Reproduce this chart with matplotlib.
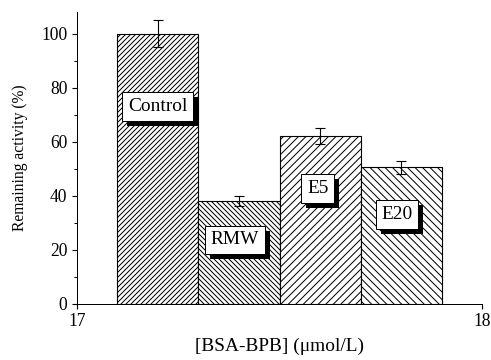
import matplotlib
matplotlib.use("Agg")
import matplotlib.pyplot as plt
import matplotlib.patheffects as pe
from matplotlib.ticker import MultipleLocator

# data
labels = ["Control", "RMW", "E5", "E20"]
positions = [17.2, 17.4, 17.6, 17.8]
activity = [100, 38, 62, 50.5]
errors = [5, 1.8, 3, 2.5]
hatches = ["//////", "\\\\\\\\\\\\", "////", "\\\\\\\\"]
# where the labelled boxes sit (data coords)
label_x = [17.2, 17.39, 17.595, 17.79]
label_y = [73, 23.7, 42.7, 33]

plt.rcParams["font.family"] = ["Liberation Serif", "DejaVu Serif"]
plt.rcParams["hatch.linewidth"] = 0.8

fig = plt.figure(figsize=(491 / 90, 360 / 90), dpi=90)
ax = fig.add_axes([0.1568, 0.1556, 0.8249, 0.8111])

for x, h, e, hat in zip(positions, activity, errors, hatches):
    ax.bar(x, h, width=0.2, color="white", edgecolor="black", linewidth=0.9, hatch=hat, zorder=2)
    ax.errorbar(x, h, yerr=e, color="black", capsize=4.3, elinewidth=0.9, capthick=0.9, zorder=3)

# text boxes with drop shadow
for lab, x, y in zip(labels, label_x, label_y):
    t = ax.text(x, y, lab, ha="center", va="center", fontsize=15.5,
                bbox=dict(boxstyle="square,pad=0.3", fc="white", ec="black", lw=0.8), zorder=5)
    t.get_bbox_patch().set_path_effects([
        pe.SimplePatchShadow(offset=(4, -4), shadow_rgbFace="black", alpha=1.0),
        pe.Normal()])

ax.set_xlim(17, 18)
ax.set_ylim(0, 108)
ax.set_xticks([17, 18])
ax.set_yticks([0, 20, 40, 60, 80, 100])
ax.yaxis.set_minor_locator(MultipleLocator(10))
ax.spines["top"].set_visible(False)
ax.spines["right"].set_visible(False)
ax.tick_params(axis="both", which="major", direction="out", length=4, width=0.9, labelsize=14)
ax.tick_params(axis="y", which="minor", direction="out", length=2.5, width=0.8)

ax.set_ylabel("Remaining activity (%)", fontsize=12.5, labelpad=11)
ax.set_xlabel("[BSA-BPB] (μmol/L)", fontsize=15.5, labelpad=6)

fig.savefig("out.png", dpi=90)
